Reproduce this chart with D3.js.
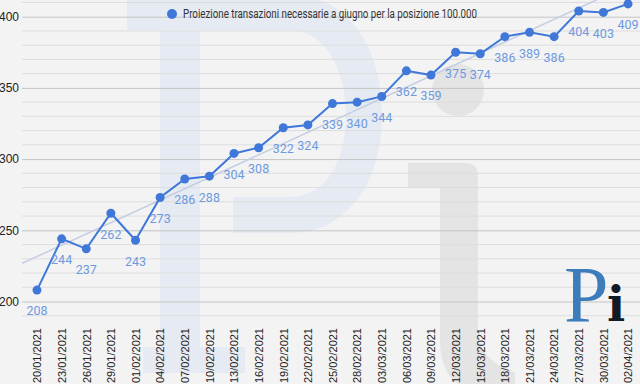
<!DOCTYPE html>
<html>
<head>
    <title>Proiezione transazioni</title>
    <script src="https://d3js.org/d3.v7.min.js"></script>
    <style>
        body { margin: 0; background: #f3f3f3; }
        svg { display: block; font-family: Roboto, sans-serif; }
        .ylab text { font-size: 12px; fill: #222; }
        .xlab text { font-size: 11px; fill: #222; }
        .val { font-size: 12.5px; fill: #6e9ae0; }
    </style>
</head>
<body>
<div id="chart"></div>

<script>
    // dates on the x axis (every 3 days)
    var dates = ["20/01/2021", "23/01/2021", "26/01/2021", "29/01/2021", "01/02/2021",
        "04/02/2021", "07/02/2021", "10/02/2021", "13/02/2021", "16/02/2021",
        "19/02/2021", "22/02/2021", "25/02/2021", "28/02/2021", "03/03/2021",
        "06/03/2021", "09/03/2021", "12/03/2021", "15/03/2021", "18/03/2021",
        "21/03/2021", "24/03/2021", "27/03/2021", "30/03/2021", "02/04/2021"];

    // projected transactions needed
    var values = [208, 244, 237, 262, 243, 273, 286, 288, 304, 308, 322, 324, 339,
        340, 344, 362, 359, 375, 374, 386, 389, 386, 404, 403, 409];

    var yTicks = [200, 250, 300, 350, 400];
    var seriesName = "Proiezione transazioni necessarie a giugno per la posizione 100.000";

    var width = 640;
    var height = 384;
    var plotLeft = 22, plotRight = 640;

    var svg = d3.select("#chart").append("svg")
        .attr("width", width)
        .attr("height", height);

    svg.append("rect")
        .attr("width", width).attr("height", height)
        .attr("fill", "#f3f3f3");

    // big "Pi" watermark behind the chart
    var wm = svg.append("g");
    wm.append("path")
        .attr("fill", "#e6eaf2")
        .attr("d", "M127,-5 L290,-5 C352,-5 382,52 382,115 C382,185 345,233 290,233 L233,233 L233,197 " +
            "L290,197 C327,197 346,160 346,115 C346,70 325,30 290,30 L200,30 L200,347 L245,347 L245,373 " +
            "L143,373 L143,347 L160,347 L160,30 L127,30 Z");
    wm.append("circle")
        .attr("cx", 458).attr("cy", 90).attr("r", 26)
        .attr("fill", "#e4e4e4");
    wm.append("path")
        .attr("fill", "#e4e4e4")
        .attr("d", "M408,163 L466,163 Q478,163 478,176 L478,330 Q480,362 515,372 L515,390 L470,390 " +
            "Q440,380 440,340 L440,188 L408,188 Z");

    var x = d3.scalePoint()
        .domain(dates)
        .range([37, 628]);

    var y = d3.scaleLinear()
        .domain([200, 400])
        .range([301.5, 16.7]);

    // minor gridlines every 10
    svg.append("g")
        .selectAll("line")
        .data(d3.range(190, 411, 10).filter(v => v % 50 !== 0))
        .enter().append("line")
        .attr("x1", plotLeft).attr("x2", plotRight)
        .attr("y1", d => y(d)).attr("y2", d => y(d))
        .attr("stroke", "#dddddd")
        .attr("stroke-width", 1);

    // Add the Y Axis
    var yAxis = svg.append("g")
        .attr("class", "ylab")
        .attr("transform", "translate(" + plotLeft + ",0)")
        .call(d3.axisLeft(y).tickValues(yTicks).tickSize(-(plotRight - plotLeft)).tickPadding(3));
    yAxis.select(".domain").remove();
    yAxis.selectAll(".tick line").attr("stroke", "#c4c4c4");

    // Add the X Axis labels
    var xAxis = svg.append("g")
        .attr("class", "xlab")
        .attr("transform", "translate(0,316)")
        .call(d3.axisBottom(x).tickSize(0).tickPadding(0));
    xAxis.select(".domain").remove();
    xAxis.selectAll("text")
        .attr("transform", "rotate(-90)")
        .attr("x", -12)
        .attr("y", 0)
        .attr("dy", "0.35em")
        .style("text-anchor", "end");

    // linear trend line (least squares on the series)
    var n = values.length;
    var mx = d3.mean(d3.range(n)), my = d3.mean(values);
    var sxy = d3.sum(values, (v, i) => (i - mx) * (v - my));
    var sxx = d3.sum(d3.range(n), i => (i - mx) * (i - mx));
    var slope = sxy / sxx, icpt = my - slope * mx;
    var idx = d3.scaleLinear().domain([0, n - 1]).range(x.range());
    var i0 = idx.invert(plotLeft), i1 = idx.invert(plotRight);

    svg.append("defs").append("clipPath").attr("id", "plotclip")
        .append("rect").attr("x", plotLeft).attr("y", 0)
        .attr("width", plotRight - plotLeft).attr("height", 316);

    svg.append("line")
        .attr("clip-path", "url(#plotclip)")
        .attr("x1", idx(i0)).attr("y1", y(icpt + slope * i0))
        .attr("x2", idx(i1)).attr("y2", y(icpt + slope * i1))
        .attr("stroke", "#c3cde2")
        .attr("stroke-width", 1.5);

    // series line
    var data = dates.map((d, i) => ({ date: d, value: values[i] }));
    svg.append("path")
        .datum(data)
        .attr("fill", "none")
        .attr("stroke", "#3f78d8")
        .attr("stroke-width", 2)
        .attr("d", d3.line().x(d => x(d.date)).y(d => y(d.value)));

    svg.selectAll(".dot")
        .data(data)
        .enter().append("circle")
        .attr("class", "dot")
        .attr("cx", d => x(d.date))
        .attr("cy", d => y(d.value))
        .attr("r", 4.5)
        .attr("fill", "#3f78d8");

    svg.selectAll(".val")
        .data(data)
        .enter().append("text")
        .attr("class", "val")
        .attr("x", d => x(d.date))
        .attr("y", d => y(d.value) + 21)
        .attr("dy", "0.35em")
        .attr("text-anchor", "middle")
        .text(d => d.value);

    // legend
    svg.append("circle")
        .attr("cx", 172).attr("cy", 14).attr("r", 5)
        .attr("fill", "#3f78d8");
    svg.append("text")
        .attr("x", 183).attr("y", 14)
        .attr("dy", "0.35em")
        .attr("textLength", 294)
        .attr("lengthAdjust", "spacingAndGlyphs")
        .style("font-size", "12px")
        .style("fill", "#333")
        .text(seriesName);

    // logo bottom right
    svg.append("text")
        .attr("x", 564).attr("y", 322)
        .style("font-family", "'Liberation Serif', serif")
        .style("font-size", "80px")
        .style("fill", "#3d7cba")
        .text("P");
    svg.append("text")
        .attr("x", 607).attr("y", 321)
        .style("font-family", "'DejaVu Serif', serif")
        .style("font-size", "48px")
        .style("font-weight", "bold")
        .style("fill", "#111b28")
        .text("i");
</script>
</body>
</html>
